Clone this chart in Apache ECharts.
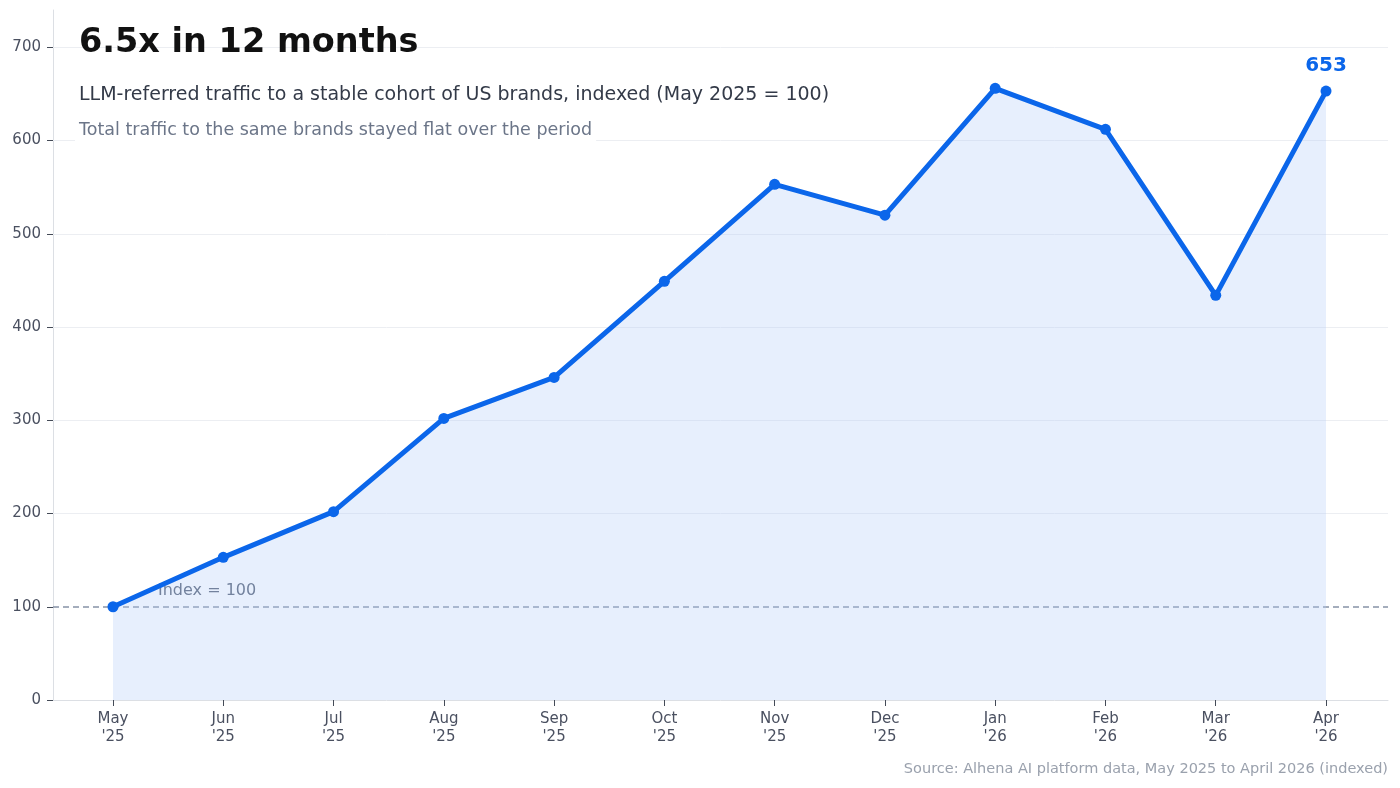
<!DOCTYPE html>
<html>
<head>
<meta charset="utf-8">
<script src="https://cdn.jsdelivr.net/npm/echarts@6/dist/echarts.min.js"></script>
<style>
  html, body { margin: 0; padding: 0; background: #fff; }
  #main { width: 1400px; height: 788px; }
</style>
</head>
<body>
<div id="main"></div>
<script>
// months along the x axis
var months = ["May\n'25", "Jun\n'25", "Jul\n'25", "Aug\n'25", "Sep\n'25", "Oct\n'25",
              "Nov\n'25", "Dec\n'25", "Jan\n'26", "Feb\n'26", "Mar\n'26", "Apr\n'26"];
// LLM-referred traffic index (May 2025 = 100)
var indexValues = [100, 153, 202, 302, 346, 449, 553, 520, 656, 612, 434, 653];
var yTicks = [0, 100, 200, 300, 400, 500, 600, 700];
var baseline = 100;

var FONT = '"DejaVu Sans", sans-serif';
var BLUE = '#0b66ea';

var myChart = echarts.init(document.getElementById('main'));

var points = indexValues.map(function (v, i) { return [i, v]; });
var xTicks = months.map(function (m, i) { return i; });

var option = {
  animation: false,
  textStyle: { fontFamily: FONT },
  grid: { left: 53, right: 12, top: 10, bottom: 88 },
  title: [
    {
      text: '6.5x in 12 months',
      left: 79, top: 26, padding: 0,
      textStyle: { fontFamily: FONT, fontSize: 33.5, fontWeight: 'bold', color: '#111' }
    },
    {
      text: 'LLM-referred traffic to a stable cohort of US brands, indexed (May 2025 = 100)',
      left: 79, top: 86, padding: 0,
      textStyle: { fontFamily: FONT, fontSize: 19, fontWeight: 'normal', color: '#333a48' }
    },
    {
      text: 'Total traffic to the same brands stayed flat over the period',
      left: 75, top: 118, padding: [3, 4, 5, 4],
      backgroundColor: '#fff',
      textStyle: { fontFamily: FONT, fontSize: 17.5, fontWeight: 'normal', color: '#6b7588' }
    },
    {
      text: 'Source: Alhena AI platform data, May 2025 to April 2026 (indexed)',
      right: 12, top: 762, padding: 0,
      textStyle: { fontFamily: FONT, fontSize: 14.5, fontWeight: 'normal', color: '#9aa1ad' }
    }
  ],
  xAxis: {
    type: 'value',
    min: -0.544, max: 11.562,
    axisLine: { show: true, onZero: false, lineStyle: { color: '#dcdfe4', width: 1 } },
    axisTick: { show: true, customValues: xTicks, length: 6, lineStyle: { color: '#444b57' } },
    axisLabel: {
      customValues: xTicks, fontFamily: FONT,
      color: '#4a5060', fontSize: 15, lineHeight: 18, margin: 10,
      formatter: function (v) { return months[Math.round(v)]; }
    },
    splitLine: { show: false }
  },
  yAxis: {
    type: 'value',
    min: 0, max: 740,
    axisLine: { show: true, onZero: false, lineStyle: { color: '#dcdfe4', width: 1 } },
    axisTick: { show: true, customValues: yTicks, length: 6, lineStyle: { color: '#444b57' } },
    axisLabel: { customValues: yTicks, fontFamily: FONT, color: '#4a5060', fontSize: 15, margin: 12 },
    splitLine: { show: false }
  },
  series: [
    {
      // light horizontal gridlines
      type: 'line',
      data: [],
      silent: true,
      z: 1,
      markLine: {
        silent: true, symbol: 'none', z: 1,
        label: { show: false },
        lineStyle: { color: '#eceef2', width: 1, type: 'solid' },
        data: yTicks.filter(function (t) { return t !== 0 && t !== baseline; })
                    .map(function (t) { return { yAxis: t }; })
      }
    },
    {
      type: 'line',
      data: points,
      z: 3,
      lineStyle: { color: BLUE, width: 5 },
      itemStyle: { color: BLUE },
      symbol: 'circle', symbolSize: 11,
      areaStyle: { color: 'rgba(180,206,250,0.45)' },
      label: {
        show: true, position: 'top', distance: 10,
        color: BLUE, fontSize: 20, fontWeight: 'bold', fontFamily: FONT,
        formatter: function (p) { return p.dataIndex === indexValues.length - 1 ? p.value[1] : ''; }
      },
      markLine: {
        silent: true, symbol: 'none', z: 2,
        lineStyle: { color: '#8793a6', width: 1.5, type: [6, 4] },
        label: {
          show: true, position: 'insideStartTop', distance: [105, 8],
          formatter: 'Index = 100', color: '#556074', fontSize: 16, fontFamily: FONT
        },
        data: [{ yAxis: baseline }]
      }
    }
  ]
};

myChart.setOption(option);
</script>
</body>
</html>
